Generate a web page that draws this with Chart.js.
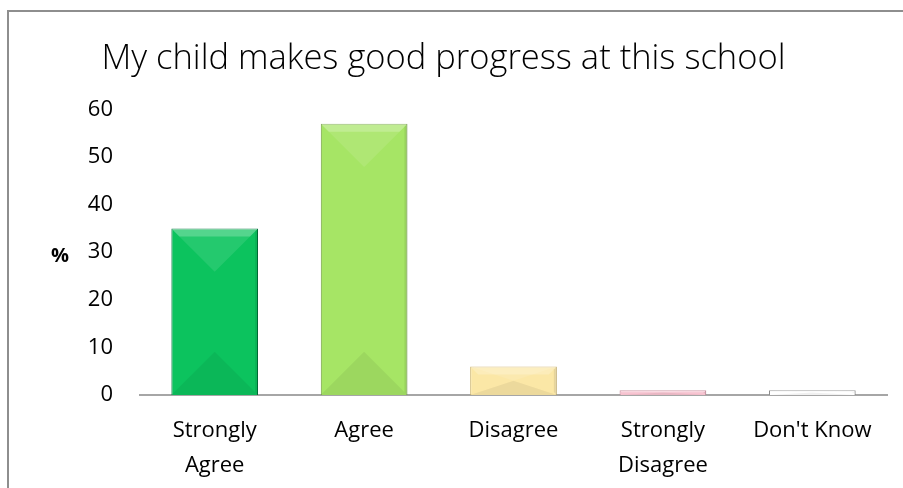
<!DOCTYPE html>
<html>
<head>
<meta charset="utf-8">
<script src="https://cdn.jsdelivr.net/npm/chart.js@4.4.1/dist/chart.umd.min.js"></script>
<style>
  html, body { margin: 0; padding: 0; background: #fff; overflow: hidden; }
  #frame { position: absolute; left: 7px; top: 10px; width: 1200px; height: 800px;
           border-left: 2px solid #8e8e8e; border-top: 2px solid #8e8e8e; }
  #wrap { position: absolute; left: 0; top: 0; width: 903px; height: 488px; }
</style>
</head>
<body>
<div id="frame"></div>
<div id="wrap"><canvas id="progress" width="903" height="488"></canvas></div>
<script>
// answers
var answers = [
    ["Strongly", "Agree"],
    "Agree",
    "Disagree",
    ["Strongly", "Disagree"],
    "Don't Know"
];
// percent of parents
var percents = [35, 57, 6, 1, 1];
var yTicks = [0, 10, 20, 30, 40, 50, 60];

// left, right shade and border for every bar
var barLight  = ["#0cc35e", "#a6e565", "#fbe7a6", "#f7c3d0", "#ffffff"];
var barDark   = ["#00a650", "#8cc653", "#f2d88e", "#eeb0c0", "#f0f0f0"];
var barEdge   = ["#00703a", "#6e9c3e", "#cdb46c", "#c28394", "#8a8a8a"];

function barFill(ctx) {
    var el = ctx.element;
    var i = ctx.dataIndex;
    if (!el || el.width === undefined) return barLight[i];
    var half = el.width / 2;
    var g = ctx.chart.ctx.createLinearGradient(el.x - half, 0, el.x + half, 0);
    g.addColorStop(0, barLight[i]);
    g.addColorStop(0.55, barLight[i]);
    g.addColorStop(1, barDark[i]);
    return g;
}

// excel style bevel on top of each bar
var bevel = {
    id: 'bevel',
    afterDatasetsDraw: function(chart) {
        var c = chart.ctx;
        chart.getDatasetMeta(0).data.forEach(function(bar) {
            var l = bar.x - bar.width / 2, r = bar.x + bar.width / 2;
            var t = bar.y, b = bar.base;
            var h = b - t;
            var d = Math.min(bar.width / 2, h / 2);
            var band = Math.min(8, h / 2);
            c.save();
            // top triangle
            c.fillStyle = 'rgba(255,255,255,0.10)';
            c.beginPath();
            c.moveTo(l, t); c.lineTo(r, t); c.lineTo(bar.x, t + d); c.closePath(); c.fill();
            // top light band
            c.fillStyle = 'rgba(255,255,255,0.22)';
            c.beginPath();
            c.moveTo(l, t); c.lineTo(r, t); c.lineTo(r - band, t + band); c.lineTo(l + band, t + band);
            c.closePath(); c.fill();
            // bottom triangle
            c.fillStyle = 'rgba(0,0,0,0.06)';
            c.beginPath();
            c.moveTo(l, b); c.lineTo(r, b); c.lineTo(bar.x, b - d); c.closePath(); c.fill();
            // right side darker
            c.fillStyle = 'rgba(0,0,0,0.08)';
            c.beginPath();
            c.moveTo(r, t); c.lineTo(r, b); c.lineTo(r - 3, b - 3); c.lineTo(r - 3, t + 3); c.closePath(); c.fill();
            c.restore();
        });
    }
};

// the "%" beside the y axis, written flat
var pctLabel = {
    id: 'pctLabel',
    afterDraw: function(chart) {
        var c = chart.ctx;
        var y = chart.scales.y.getPixelForValue(30);
        c.save();
        c.font = 'bold 20px "Open Sans"';
        c.fillStyle = '#000';
        c.textAlign = 'center';
        c.textBaseline = 'middle';
        c.fillText('%', 60, y + 4);
        c.restore();
    }
};

var ctx = document.getElementById("progress").getContext("2d");
new Chart(ctx, {
    type: 'bar',
    data: {
        labels: answers,
        datasets: [{
            data: percents,
            backgroundColor: barFill,
            borderColor: barEdge,
            borderWidth: 1,
            categoryPercentage: 1,
            barPercentage: 0.58
        }]
    },
    options: {
        responsive: false,
        animation: false,
        layout: { padding: { left: 0, right: 16, top: 0, bottom: 0 } },
        plugins: {
            legend: { display: false },
            tooltip: { enabled: false },
            title: {
                display: true,
                text: 'My child makes good progress at this school',
                color: '#000',
                font: { family: '"Open Sans"', size: 34.5, weight: '300', lineHeight: 1.2 },
                padding: { top: 38, bottom: 30 }
            }
        },
        scales: {
            x: {
                grid: { display: false, drawTicks: false },
                border: { display: true, color: '#a6a6a6', width: 2 },
                ticks: {
                    color: '#000',
                    font: { family: '"Open Sans"', size: 22, lineHeight: 1.6 },
                    padding: 18,
                    maxRotation: 0,
                    autoSkip: false
                },
                afterFit: function(s) { s.height = 93; }
            },
            y: {
                min: 0,
                max: 60,
                afterBuildTicks: function(s) {
                    s.ticks = yTicks.map(function(v) { return { value: v }; });
                },
                grid: { display: false, drawTicks: false },
                border: { display: false },
                ticks: {
                    color: '#000',
                    font: { family: '"Open Sans"', size: 22 },
                    padding: 27
                },
                afterFit: function(s) { s.width = 140; }
            }
        }
    },
    plugins: [bevel, pctLabel]
});
</script>
</body>
</html>
